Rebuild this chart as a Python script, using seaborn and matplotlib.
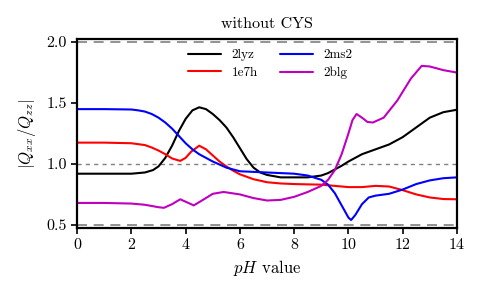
import numpy as np
import pandas as pd
import matplotlib
matplotlib.use("Agg")
import matplotlib.pyplot as plt
import seaborn as sns

# ---- data ----
x_2lyz = [0, 1, 2, 2.5, 2.8, 3.0, 3.25, 3.5, 3.75, 4.0, 4.25, 4.5, 4.75, 5.0, 5.25, 5.5, 5.75, 6.0, 6.25, 6.5, 6.75, 7.0, 7.5, 8.0, 8.5, 9.0, 9.25, 9.5, 9.75, 10.0, 10.5, 11.0, 11.5, 12.0, 12.5, 13.0, 13.5, 14.0]
y_2lyz = [0.92, 0.92, 0.92, 0.93, 0.95, 0.98, 1.05, 1.15, 1.27, 1.37, 1.44, 1.465, 1.45, 1.41, 1.36, 1.30, 1.22, 1.13, 1.04, 0.97, 0.93, 0.91, 0.89, 0.89, 0.89, 0.905, 0.925, 0.955, 0.985, 1.02, 1.08, 1.12, 1.16, 1.22, 1.30, 1.38, 1.425, 1.445]

x_1e7h = [0, 1, 2, 2.5, 2.75, 3.0, 3.25, 3.5, 3.8, 4.0, 4.2, 4.5, 4.75, 5.0, 5.25, 5.5, 5.75, 6.0, 6.5, 7.0, 7.5, 8.0, 9.0, 10.0, 10.5, 11.0, 11.5, 12.0, 12.5, 13.0, 13.5, 14.0]
y_1e7h = [1.175, 1.175, 1.17, 1.155, 1.135, 1.11, 1.08, 1.045, 1.025, 1.05, 1.10, 1.15, 1.12, 1.07, 1.02, 0.98, 0.945, 0.915, 0.875, 0.85, 0.84, 0.835, 0.83, 0.81, 0.81, 0.82, 0.815, 0.785, 0.75, 0.725, 0.712, 0.71]

x_2ms2 = [0, 1, 2, 2.25, 2.5, 2.75, 3.0, 3.25, 3.5, 3.75, 4.0, 4.25, 4.5, 5.0, 5.5, 6.0, 7.0, 8.0, 8.5, 9.0, 9.25, 9.5, 9.75, 10.0, 10.1, 10.25, 10.5, 10.75, 11.0, 11.5, 12.0, 12.5, 13.0, 13.5, 14.0]
y_2ms2 = [1.45, 1.45, 1.447, 1.44, 1.43, 1.41, 1.38, 1.34, 1.29, 1.23, 1.17, 1.12, 1.08, 1.02, 0.97, 0.94, 0.93, 0.92, 0.905, 0.87, 0.83, 0.76, 0.66, 0.56, 0.54, 0.58, 0.67, 0.725, 0.74, 0.755, 0.79, 0.835, 0.865, 0.883, 0.89]

x_2blg = [0, 1, 2, 2.5, 3.0, 3.2, 3.5, 3.8, 4.05, 4.3, 4.6, 5.0, 5.4, 6.0, 6.5, 7.0, 7.5, 8.0, 8.5, 9.0, 9.25, 9.5, 9.75, 10.0, 10.15, 10.3, 10.5, 10.7, 10.9, 11.3, 11.8, 12.3, 12.7, 13.0, 13.5, 14.0]
y_2blg = [0.68, 0.68, 0.675, 0.665, 0.645, 0.64, 0.67, 0.71, 0.685, 0.66, 0.70, 0.755, 0.77, 0.75, 0.72, 0.70, 0.705, 0.73, 0.77, 0.82, 0.87, 0.95, 1.08, 1.25, 1.36, 1.41, 1.38, 1.345, 1.34, 1.38, 1.52, 1.70, 1.805, 1.80, 1.77, 1.75]

series_names = ["2lyz", "1e7h", "2ms2", "2blg"]
series_x = [x_2lyz, x_1e7h, x_2ms2, x_2blg]
series_y = [y_2lyz, y_1e7h, y_2ms2, y_2blg]
colors = ["black", "red", "blue", "m"]

x_ticks = [0, 2, 4, 6, 8, 10, 12, 14]
y_ticks = [0.5, 1.0, 1.5, 2.0]
ref_dashed = [0.5, 2.0]
ref_dotted = [1.0]

frames = []
for n, xs, ys in zip(series_names, series_x, series_y):
    frames.append(pd.DataFrame({"pH": xs, "ratio": ys, "protein": n}))
df = pd.concat(frames, ignore_index=True)

sns.set_style("ticks", {"axes.edgecolor": "black", "xtick.color": "black",
                        "ytick.color": "black", "text.color": "black",
                        "axes.labelcolor": "black"})
plt.rcParams["font.family"] = ["cmr10", "DejaVu Serif"]
plt.rcParams["mathtext.fontset"] = "cm"
plt.rcParams["axes.formatter.use_mathtext"] = True

fig = plt.figure(figsize=(4.82, 2.96), dpi=100)
ax = fig.add_axes([0.16, 0.23, 0.788, 0.638])

for y in ref_dashed:
    ax.axhline(y, color="gray", ls=(0, (6, 4)), lw=1.2, zorder=1)
for y in ref_dotted:
    ax.axhline(y, color="gray", ls=(0, (3, 3)), lw=1.0, zorder=1)

sns.lineplot(data=df, x="pH", y="ratio", hue="protein", hue_order=series_names,
             palette=colors, ax=ax, lw=1.5, sort=False, estimator=None)

ax.set_xlim(0, 14)
ax.set_ylim(0.475, 2.025)
ax.set_xticks(x_ticks)
ax.set_yticks(y_ticks)
ax.set_xticklabels([str(t) for t in x_ticks])
ax.set_yticklabels([f"{t:.1f}" for t in y_ticks])
ax.tick_params(labelsize=11.5, width=1.2, length=4, direction="out")
for s in ax.spines.values():
    s.set_linewidth(1.6)
ax.set_xlabel("$pH$ value", fontsize=12)
ax.set_ylabel("$|Q_{xx}/Q_{zz}|$", fontsize=12, labelpad=6)
ax.set_title("without CYS", fontsize=11.5, pad=8)
ax.legend(loc="upper center", ncol=2, frameon=False, fontsize=9.5,
          handlelength=2.5, columnspacing=1.7, labelspacing=0.4,
          bbox_to_anchor=(0.509, 1.01))

fig.savefig("out.png", dpi=100)
